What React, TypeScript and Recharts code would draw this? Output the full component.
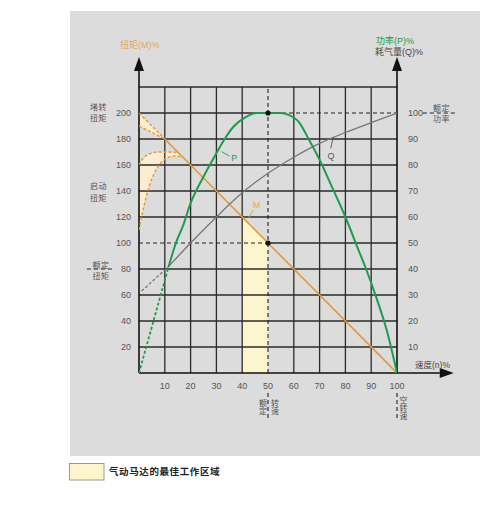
import React from 'react';
import { ComposedChart, Line, Area, XAxis, YAxis, ReferenceLine, ReferenceDot } from 'recharts';

// tick labels
const speedTicks = [10, 20, 30, 40, 50, 60, 70, 80, 90, 100];
const torqueTicks = [20, 40, 60, 80, 100, 120, 140, 160, 180, 200];
const powerTicks = [10, 20, 30, 40, 50, 60, 70, 80, 90, 100];

// torque M (% , left axis)
const torqueN = [10, 100];
const torqueM = [180, 0];
// stall torque wedge
const stallN = [0, 10];
const stallHigh = [200, 180];
const stallLow = [190, 180];
// starting torque band
const startN = [0, 1, 2, 3, 4, 5, 6, 8, 10, 12, 14, 15.5, 17];
const startHigh = [160, 163.5, 166, 167.5, 168.5, 169.2, 169.7, 170, 170, 170, 169.8, 168.8, 166];
const startLow = [110, 120, 129, 137, 144, 149.5, 154, 160.5, 164.5, 166.3, 166.8, 166.6, 166];
// best working zone
const zoneN = [40, 50];
const zoneM = [120, 100];

// power P (% , right axis)
const powerDashN = [0, 11.5];
const powerDashP = [0, 41];
const powerN = [11.5, 14.3, 17.2, 20, 25, 30, 32.6, 36.6, 41.7, 45.5, 50, 55, 58, 62, 66, 70, 74, 80, 85, 88, 92, 96, 100];
const powerP = [41, 50, 57, 65.3, 75.5, 84.5, 89, 94.7, 98.6, 100, 100, 100, 99.3, 96.5, 89.5, 82, 73.3, 60, 47.5, 40, 29, 16.5, 0];

// air consumption Q (% , right axis)
const airDashN = [1, 11.5];
const airDashQ = [31.5, 41];
const airN = [11.5, 20, 30, 40, 50, 60, 70, 80, 90, 100];
const airQ = [41, 50, 60, 69.3, 76.8, 83, 88.3, 92.5, 96.3, 100];

const zip = (xs: number[], ys: number[]) => xs.map((n, i) => ({ n, v: ys[i] }));
const band = (xs: number[], lo: number[], hi: number[]) => xs.map((n, i) => ({ n, r: [lo[i], hi[i]] }));

const ORANGE = '#e29a38';
const GREEN = '#1f9a50';
const GRAY_Q = '#777777';
const GRID = '#2b2b2b';
const FONT = '"Liberation Sans", "Noto Sans CJK SC", sans-serif';

const arrowShape = (props: any) => {
  const { x1, y1, x2, y2 } = props;
  const dx = x2 - x1;
  const dy = y2 - y1;
  const len = Math.hypot(dx, dy) || 1;
  const ux = dx / len;
  const uy = dy / len;
  const head = 14;
  const half = 5;
  const bx = x2 - ux * head;
  const by = y2 - uy * head;
  return (
    <g>
      <line x1={x1} y1={y1} x2={bx} y2={by} stroke="#111" strokeWidth={1.6} />
      <polygon
        points={`${x2},${y2} ${bx - uy * half},${by + ux * half} ${bx + uy * half},${by - ux * half}`}
        fill="#111"
      />
    </g>
  );
};

const textShape = (label: string, color: string) => (props: any) => (
  <text x={props.cx} y={props.cy} fill={color} fontSize={9} fontFamily={FONT} textAnchor="middle" dominantBaseline="central">
    {label}
  </text>
);

const Stack = ({ x, y, chars, gap = 8.4 }: { x: number; y: number; chars: string; gap?: number }) => (
  <>
    {chars.split('').map((c, i) => (
      <text key={i} x={x} y={y + i * gap} fontSize={8} fill="#555" textAnchor="middle" dominantBaseline="central">
        {c}
      </text>
    ))}
  </>
);

export default function App() {
  const tickStyle = { fill: '#555', fontSize: 9, fontFamily: FONT };
  const dashed = { stroke: '#222', strokeWidth: 1.1, strokeDasharray: '4 3' };
  const solidGrid = { stroke: GRID, strokeWidth: 1.3 };

  return (
    <div style={{ position: 'absolute', left: 0, top: 0, width: 500, height: 507, background: '#fff', fontFamily: FONT }}>
      <div style={{ position: 'absolute', left: 70, top: 11, width: 410, height: 445, background: '#dcdcdc' }} />
      <div style={{ position: 'absolute', left: 0, top: 0 }}>
        <ComposedChart width={500} height={507} margin={{ top: 87, right: 63, bottom: 104, left: 99 }}>
          <XAxis dataKey="n" type="number" domain={[0, 100]} ticks={speedTicks} axisLine={false} tickLine={false} tick={tickStyle} tickMargin={4} height={30} allowDataOverflow />
          <YAxis type="number" domain={[0, 220]} ticks={torqueTicks} axisLine={false} tickLine={false} tick={tickStyle} width={40} allowDataOverflow />
          <YAxis yAxisId="right" orientation="right" type="number" domain={[0, 110]} ticks={powerTicks} axisLine={false} tickLine={false} tick={tickStyle} tickMargin={5} width={40} allowDataOverflow />

          {/* filled regions */}
          <Area data={zip(zoneN, zoneM)} dataKey="v" type="linear" fill="#fdf5cb" fillOpacity={1} stroke="none" baseValue={0} isAnimationActive={false} />
          <Area data={band(stallN, stallLow, stallHigh)} dataKey="r" type="linear" fill="#fbecd2" fillOpacity={1} stroke="none" isAnimationActive={false} />
          <Area data={band(startN, startLow, startHigh)} dataKey="r" type="monotone" fill="#fbecd2" fillOpacity={1} stroke="none" isAnimationActive={false} />

          {/* grid */}
          {torqueTicks.filter((t) => t !== 100 && t !== 200).concat([220]).map((t) => (
            <ReferenceLine key={'h' + t} y={t} {...solidGrid} ifOverflow="visible" />
          ))}
          {speedTicks.filter((t) => t !== 50 && t !== 100).map((t) => (
            <ReferenceLine key={'v' + t} x={t} {...solidGrid} ifOverflow="visible" />
          ))}
          <ReferenceLine segment={[{ x: 0, y: 200 }, { x: 50, y: 200 }]} {...solidGrid} ifOverflow="visible" />
          <ReferenceLine segment={[{ x: 50, y: 100 }, { x: 100, y: 100 }]} {...solidGrid} ifOverflow="visible" />
          <ReferenceLine segment={[{ x: 50, y: 200 }, { x: 100, y: 200 }]} {...dashed} ifOverflow="visible" />
          <ReferenceLine segment={[{ x: 110, y: 200 }, { x: 122.5, y: 200 }]} {...dashed} ifOverflow="visible" />
          <ReferenceLine segment={[{ x: 0, y: 100 }, { x: 50, y: 100 }]} {...dashed} ifOverflow="visible" />
          <ReferenceLine segment={[{ x: -20.2, y: 80 }, { x: -10.1, y: 80 }]} {...dashed} ifOverflow="visible" />
          <ReferenceLine segment={[{ x: 50, y: 0 }, { x: 50, y: 220 }]} {...dashed} ifOverflow="visible" />
          <ReferenceLine segment={[{ x: 50, y: -15.4 }, { x: 50, y: -36.2 }]} {...dashed} ifOverflow="visible" />
          <ReferenceLine segment={[{ x: 100, y: -15.4 }, { x: 100, y: -36.2 }]} {...dashed} ifOverflow="visible" />

          {/* axes with arrows */}
          <ReferenceLine segment={[{ x: 0, y: 0 }, { x: 0, y: 243 }]} shape={arrowShape} ifOverflow="visible" />
          <ReferenceLine segment={[{ x: 100, y: 0 }, { x: 100, y: 243 }]} shape={arrowShape} ifOverflow="visible" />
          <ReferenceLine segment={[{ x: 0, y: 0 }, { x: 122, y: 0 }]} shape={arrowShape} ifOverflow="visible" />

          {/* torque */}
          <Line data={zip(stallN, stallHigh)} dataKey="v" type="linear" stroke={ORANGE} strokeWidth={1.4} strokeDasharray="3 2" dot={false} isAnimationActive={false} />
          <Line data={zip(stallN, stallLow)} dataKey="v" type="linear" stroke={ORANGE} strokeWidth={1.4} strokeDasharray="3 2" dot={false} isAnimationActive={false} />
          <Line data={zip(startN, startHigh)} dataKey="v" type="monotone" stroke={ORANGE} strokeWidth={1.4} strokeDasharray="3 2" dot={false} isAnimationActive={false} />
          <Line data={zip(startN, startLow)} dataKey="v" type="monotone" stroke={ORANGE} strokeWidth={1.4} strokeDasharray="3 2" dot={false} isAnimationActive={false} />
          <Line data={zip(torqueN, torqueM)} dataKey="v" type="linear" stroke={ORANGE} strokeWidth={1.6} dot={false} isAnimationActive={false} />

          {/* air consumption */}
          <Line yAxisId="right" data={zip(airDashN, airDashQ)} dataKey="v" type="linear" stroke={GRAY_Q} strokeWidth={1.3} strokeDasharray="3 2" dot={false} isAnimationActive={false} />
          <Line yAxisId="right" data={zip(airN, airQ)} dataKey="v" type="monotone" stroke={GRAY_Q} strokeWidth={1.3} dot={false} isAnimationActive={false} />

          {/* power */}
          <Line yAxisId="right" data={zip(powerDashN, powerDashP)} dataKey="v" type="linear" stroke={GREEN} strokeWidth={1.8} strokeDasharray="3 2" dot={false} isAnimationActive={false} />
          <Line yAxisId="right" data={zip(powerN, powerP)} dataKey="v" type="monotone" stroke={GREEN} strokeWidth={2} dot={false} isAnimationActive={false} />

          {/* rated points */}
          <ReferenceDot x={50} y={200} r={2.6} fill="#111" stroke="none" ifOverflow="visible" />
          <ReferenceDot x={50} y={100} r={2.6} fill="#111" stroke="none" ifOverflow="visible" />

          {/* curve labels with leaders */}
          <ReferenceLine segment={[{ x: 32, y: 170.2 }, { x: 35, y: 167 }]} stroke={GREEN} strokeWidth={0.9} ifOverflow="visible" />
          <ReferenceDot x={36.9} y={165.5} shape={textShape('P', GREEN)} ifOverflow="visible" />
          <ReferenceLine yAxisId="right" segment={[{ x: 75.3, y: 90.9 }, { x: 74.3, y: 86.4 }]} stroke="#555" strokeWidth={0.9} ifOverflow="visible" />
          <ReferenceDot yAxisId="right" x={74.4} y={83.6} shape={textShape('Q', '#555')} ifOverflow="visible" />
          <ReferenceLine segment={[{ x: 42.4, y: 119 }, { x: 44.3, y: 125.4 }]} stroke={ORANGE} strokeWidth={0.9} ifOverflow="visible" />
          <ReferenceDot x={45.5} y={129.5} shape={textShape('M', '#e8a657')} ifOverflow="visible" />
        </ComposedChart>
      </div>

      <svg width={500} height={507} style={{ position: 'absolute', left: 0, top: 0, pointerEvents: 'none' }} fontFamily={FONT}>
        <text x={120} y={45} fontSize={9} fill="#e8a657" dominantBaseline="central">扭矩(M)%</text>
        <text x={376} y={40.5} fontSize={9} fill={GREEN} dominantBaseline="central">功率(P)%</text>
        <text x={375} y={52} fontSize={9} fill="#444" dominantBaseline="central">耗气量(Q)%</text>

        <text x={90} y={107.5} fontSize={8} fill="#555" letterSpacing={0.5} dominantBaseline="central">堵转</text>
        <text x={90} y={118.5} fontSize={8} fill="#555" letterSpacing={0.5} dominantBaseline="central">扭矩</text>
        <text x={90} y={186.5} fontSize={8} fill="#555" letterSpacing={0.5} dominantBaseline="central">启动</text>
        <text x={90} y={198} fontSize={8} fill="#555" letterSpacing={0.5} dominantBaseline="central">扭矩</text>
        <text x={92.5} y={265} fontSize={8} fill="#555" letterSpacing={0.5} dominantBaseline="central">额定</text>
        <text x={92.5} y={276.5} fontSize={8} fill="#555" letterSpacing={0.5} dominantBaseline="central">扭矩</text>

        <text x={433} y={108} fontSize={8} fill="#555" letterSpacing={0.5} dominantBaseline="central">额定</text>
        <text x={433} y={119.5} fontSize={8} fill="#555" letterSpacing={0.5} dominantBaseline="central">功率</text>

        <text x={415} y={364.5} fontSize={8.5} fill="#444" dominantBaseline="central">速度(n)%</text>

        <Stack x={263} y={403.3} chars="额定" />
        <Stack x={275} y={403.3} chars="转速" />
        <Stack x={403.5} y={400} chars="空转速" />

        <rect x={69.5} y={463.5} width={34.5} height={16.5} fill="#fdf5cb" stroke="#999" strokeWidth={1} />
        <text x={109} y={471.5} fontSize={9.5} fontWeight="bold" fill="#222" letterSpacing={0.6} dominantBaseline="central">气动马达的最佳工作区域</text>
      </svg>
    </div>
  );
}
